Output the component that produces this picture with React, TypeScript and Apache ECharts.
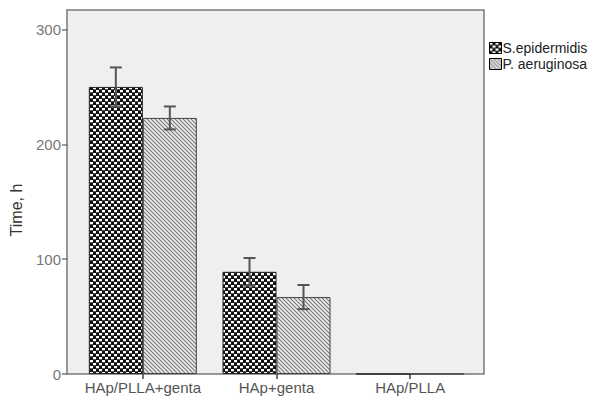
import React, { useEffect, useRef } from "react";
import * as echarts from "echarts";

const categories = ["HAp/PLLA+genta", "HAp+genta", "HAp/PLLA"];
const seriesNames = ["S.epidermidis", "P. aeruginosa"];
const sEpiValues = [250, 89, 0];
const sEpiErrors = [17, 12, 0];
const pAerValues = [223, 67, 0];
const pAerErrors = [10, 10.5, 0];
const yTicks = [0, 100, 200, 300];
const yMax = 317;

const BAR_W = 54;
const FONT = "'Liberation Sans', Arial, sans-serif";

function makeChecker() {
  const c = document.createElement("canvas");
  c.width = 6;
  c.height = 6;
  const g = c.getContext("2d")!;
  g.fillStyle = "#111111";
  g.fillRect(0, 0, 6, 6);
  g.fillStyle = "#ffffff";
  g.fillRect(0, 0, 3, 3);
  g.fillRect(3, 3, 3, 3);
  g.fillStyle = "#555555";
  g.fillRect(0, 2, 3, 1);
  g.fillRect(3, 5, 3, 1);
  return { image: c, repeat: "repeat" };
}

function makeHatch() {
  const c = document.createElement("canvas");
  c.width = 4;
  c.height = 4;
  const g = c.getContext("2d")!;
  g.fillStyle = "#eeeeee";
  g.fillRect(0, 0, 4, 4);
  g.strokeStyle = "#777777";
  g.lineWidth = 1.1;
  g.beginPath();
  g.moveTo(-1, -1);
  g.lineTo(5, 5);
  g.moveTo(-1, 3);
  g.lineTo(1, 5);
  g.moveTo(3, -1);
  g.lineTo(5, 1);
  g.stroke();
  return { image: c, repeat: "repeat" };
}

function errorSeries(name: string, values: number[], errs: number[], offset: number) {
  return {
    type: "custom",
    name: name + " error",
    z: 5,
    silent: true,
    encode: { x: 0, y: 1 },
    data: values.map((v, i) => [i, v, errs[i]]),
    renderItem: (params: any, api: any) => {
      const i = api.value(0);
      const v = api.value(1);
      const e = api.value(2);
      if (!e) return null;
      const top = api.coord([i, v + e]);
      const bot = api.coord([i, v - e]);
      const x = top[0] + offset;
      const style = { stroke: "#555", lineWidth: 2 };
      return {
        type: "group",
        children: [
          { type: "line", shape: { x1: x, y1: top[1], x2: x, y2: bot[1] }, style },
          { type: "line", shape: { x1: x - 6, y1: top[1], x2: x + 6, y2: top[1] }, style },
          { type: "line", shape: { x1: x - 6, y1: bot[1], x2: x + 6, y2: bot[1] }, style },
        ],
      };
    },
  };
}

export default function App() {
  const ref = useRef<HTMLDivElement>(null);
  useEffect(() => {
    document.body.style.margin = "0";
    const chart = echarts.init(ref.current!, undefined, { renderer: "svg" });
    const checker = makeChecker();
    const hatch = makeHatch();
    chart.setOption({
      animation: false,
      backgroundColor: "#ffffff",
      textStyle: { fontFamily: FONT },
      grid: { left: 75, right: 133, top: 10, bottom: 24 },
      graphic: [
        {
          type: "rect",
          silent: true,
          z: -10,
          shape: { x: 67, y: 10, width: 417, height: 364 },
          style: { fill: "#efefef", stroke: "#7a7a7a", lineWidth: 1.5 },
        },
      ],
      legend: {
        orient: "vertical",
        left: 484,
        top: 36,
        icon: "rect",
        itemWidth: 12,
        itemHeight: 11,
        itemGap: 2,
        data: seriesNames,
        itemStyle: { borderColor: "#000", borderWidth: 1 },
        textStyle: { fontFamily: FONT, fontSize: 14, lineHeight: 14, color: "#222", padding: [0, 0, 0, -4] },
      },
      xAxis: {
        type: "category",
        data: categories,
        axisLine: { show: false },
        axisTick: { show: true, alignWithLabel: true, length: 5, lineStyle: { color: "#444", width: 1.5 } },
        axisLabel: { fontFamily: FONT, fontSize: 15, color: "#555", margin: 6, interval: 0 },
      },
      yAxis: {
        type: "value",
        min: 0,
        max: yMax,
        interval: 100,
        offset: 8,
        name: "Time, h",
        nameLocation: "middle",
        nameGap: 44,
        nameTextStyle: { fontFamily: FONT, fontSize: 16, color: "#333", padding: [0, 36, 0, 0] },
        splitLine: { show: false },
        axisLine: { show: false },
        axisTick: { show: true, length: 6, customValues: yTicks, lineStyle: { color: "#777", width: 1.5 } },
        axisLabel: { fontFamily: FONT, fontSize: 15, color: "#777", margin: 7, customValues: yTicks },
      },
      series: [
        {
          type: "bar",
          name: seriesNames[0],
          data: sEpiValues,
          barWidth: BAR_W,
          barGap: "0%",
          itemStyle: { color: checker, borderColor: "#222", borderWidth: 1 },
        },
        {
          type: "bar",
          name: seriesNames[1],
          data: pAerValues,
          barWidth: BAR_W,
          barGap: "0%",
          itemStyle: { color: hatch, borderColor: "#444", borderWidth: 1 },
        },
        errorSeries(seriesNames[0], sEpiValues, sEpiErrors, -BAR_W / 2),
        errorSeries(seriesNames[1], pAerValues, pAerErrors, BAR_W / 2),
      ],
    });
    return () => chart.dispose();
  }, []);
  return <div ref={ref} style={{ width: 610, height: 398 }} />;
}
